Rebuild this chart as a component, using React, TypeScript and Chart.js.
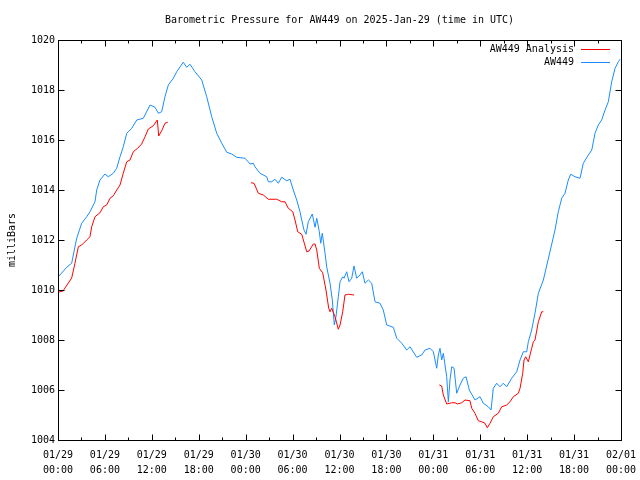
import React, { useEffect, useRef } from "react";
import { Chart, registerables } from "chart.js";

Chart.register(...registerables);

// Hours since 2025-01-29 00:00 UTC
const awHours = [
  0.13, 1.11, 1.75, 2.17, 2.39, 3.03, 3.67, 4.09, 4.73, 4.95, 5.37, 6.01, 6.43, 7.07, 7.51, 7.93, 8.35, 8.79, 9.43, 10.07,
  10.91, 11.77, 12.41, 12.83, 13.26, 13.68, 14.11, 14.75, 15.18, 16.02, 16.46, 16.88, 17.52, 18.38, 19.02, 19.66, 20.3, 20.94,
  21.58, 22.21, 22.85, 23.92, 24.56, 24.98, 25.19, 25.83, 26.69, 26.9, 27.33, 27.75, 28.17, 28.61, 29.25, 29.67, 30.09, 30.53,
  30.95, 31.17, 31.46, 31.72, 32.01, 32.52, 32.87, 33.09, 33.42, 33.6, 33.8, 34.15, 34.36, 34.79, 35.08, 35.34, 35.55, 35.85,
  36.07, 36.41, 36.58, 36.92, 37.22, 37.56, 37.86, 38.2, 38.62, 38.92, 39.26, 39.69, 40.12, 40.54, 41.18, 41.6, 42.04, 42.88,
  43.32, 43.96, 44.6, 45.02, 45.87, 46.51, 46.94, 47.58, 48.0, 48.43, 48.64, 48.85, 49.07, 49.28, 49.71, 49.92, 50.13, 50.35,
  50.65, 50.99, 51.41, 51.83, 52.18, 52.6, 53.33, 53.97, 54.39, 55.03, 55.38, 55.67, 56.11, 56.53, 56.95, 57.38, 58.02, 58.66,
  59.09, 59.51, 59.94, 60.15, 60.58, 61.0, 61.43, 62.07, 62.67, 63.56, 63.98, 64.42, 64.84, 65.26, 65.57, 66.12, 66.76, 67.18,
  67.82, 68.26, 68.68, 69.1, 69.53, 69.96, 70.38, 70.81, 71.24, 71.66, 71.88,
];
const awPressure = [
  1010.56, 1010.91, 1011.07, 1011.73, 1012.07, 1012.67, 1012.93, 1013.13, 1013.53, 1014.0, 1014.4, 1014.64, 1014.53, 1014.67,
  1014.87, 1015.33, 1015.73, 1016.27, 1016.47, 1016.8, 1016.87, 1017.4, 1017.31, 1017.07, 1017.13, 1017.73, 1018.2, 1018.47,
  1018.73, 1019.11, 1018.91, 1019.03, 1018.73, 1018.4, 1017.73, 1016.93, 1016.27, 1015.87, 1015.51, 1015.44, 1015.31, 1015.27,
  1015.04, 1015.07, 1014.93, 1014.67, 1014.53, 1014.33, 1014.33, 1014.43, 1014.27, 1014.51, 1014.37, 1014.43, 1014.0, 1013.6,
  1013.13, 1012.8, 1012.4, 1012.23, 1012.73, 1013.04, 1012.51, 1012.87, 1012.33, 1011.87, 1012.27, 1011.47, 1010.93, 1010.27,
  1009.6, 1008.6, 1008.93, 1009.73, 1010.33, 1010.53, 1010.47, 1010.73, 1010.33, 1010.47, 1010.96, 1010.47, 1010.6, 1010.73,
  1010.27, 1010.4, 1010.27, 1009.53, 1009.47, 1009.2, 1008.6, 1008.51, 1008.07, 1007.87, 1007.6, 1007.73, 1007.31, 1007.4,
  1007.6, 1007.67, 1007.53, 1006.87, 1007.4, 1007.67, 1007.2, 1007.47, 1006.53, 1005.53, 1006.4, 1006.93, 1006.87, 1005.87,
  1006.2, 1006.47, 1006.53, 1006.0, 1005.6, 1005.73, 1005.47, 1005.33, 1005.2, 1006.07, 1006.27, 1006.13, 1006.27, 1006.13,
  1006.47, 1006.73, 1007.2, 1007.53, 1007.53, 1007.93, 1008.4, 1009.07, 1009.87, 1010.4, 1011.2, 1012.4, 1013.13, 1013.67,
  1013.87, 1014.4, 1014.63, 1014.53, 1014.47, 1015.07, 1015.4, 1015.6, 1016.27, 1016.6, 1016.8, 1017.2, 1017.53, 1018.33,
  1018.87, 1019.13, 1019.23,
];

const anHours = [
  0.13, 0.64, 1.15, 1.75, 2.17, 2.6, 3.03, 3.67, 4.09, 4.31, 4.73, 5.37, 5.79, 6.23, 6.65, 7.07, 7.51, 7.93, 8.35, 8.79, 9.21,
  9.63, 10.19, 10.7, 11.13, 11.55, 12.19, 12.7, 12.88, 13.26, 13.68, 14.03,
  19.0,
  24.68, 25.07, 25.62, 26.26, 26.9, 27.97, 28.61, 29.03, 29.45, 30.02, 30.31, 30.66, 31.17, 31.81, 32.1, 32.65, 32.87, 33.09,
  33.42, 33.85, 34.27, 34.62, 34.79, 35.0, 35.43, 35.85, 36.07, 36.41, 36.7, 37.13, 37.86,
  43.0,
  48.76, 49.07, 49.28, 49.71, 50.35, 50.77, 51.07, 51.63, 52.05, 52.69, 52.91, 53.33, 53.75, 54.19, 54.61, 54.9, 55.25, 55.67,
  56.31, 56.74, 57.38, 57.81, 58.23, 58.87, 59.09, 59.43, 59.6, 59.81, 60.15, 60.58, 60.79, 61.0, 61.43, 61.86, 62.07,
];
const anPressure: (number | null)[] = [
  1009.92, 1009.96, 1010.2, 1010.48, 1011.07, 1011.73, 1011.8, 1012.0, 1012.13, 1012.53, 1012.93, 1013.09, 1013.33, 1013.4,
  1013.67, 1013.77, 1014.0, 1014.2, 1014.67, 1015.13, 1015.2, 1015.53, 1015.67, 1015.84, 1016.13, 1016.44, 1016.57, 1016.8,
  1016.16, 1016.37, 1016.67, 1016.71,
  null,
  1014.29, 1014.27, 1013.87, 1013.8, 1013.63, 1013.63, 1013.53, 1013.53, 1013.27, 1013.13, 1012.8, 1012.33, 1012.23, 1011.53,
  1011.56, 1011.84, 1011.84, 1011.6, 1010.87, 1010.69, 1010.0, 1009.27, 1009.13, 1009.27, 1008.93, 1008.43, 1008.6, 1009.13,
  1009.8, 1009.83, 1009.8,
  null,
  1006.2, 1006.16, 1005.8, 1005.44, 1005.49, 1005.49, 1005.44, 1005.49, 1005.6, 1005.57, 1005.27, 1005.07, 1004.77, 1004.73,
  1004.67, 1004.49, 1004.67, 1004.93, 1005.07, 1005.33, 1005.4, 1005.53, 1005.73, 1005.87, 1006.07, 1006.67, 1007.2, 1007.33,
  1007.13, 1007.67, 1007.93, 1008.0, 1008.73, 1009.13, 1009.13,
];

const xTickDates = ["01/29", "01/29", "01/29", "01/29", "01/30", "01/30", "01/30", "01/30", "01/31", "01/31", "01/31", "01/31", "02/01"];
const xTickTimes = ["00:00", "06:00", "12:00", "18:00", "00:00", "06:00", "12:00", "18:00", "00:00", "06:00", "12:00", "18:00", "00:00"];
const yMin = 1004;
const yMax = 1020;
const seriesNames = ["AW449 Analysis", "AW449"];
const seriesColors = ["#ff0000", "#1a8cff"];

const FONT = "'DejaVu Sans Mono', 'Liberation Mono', monospace";

const framePlugin = {
  id: "gnuframe",
  afterDraw(chart: any) {
    const { ctx, chartArea } = chart;
    const xs = chart.scales.x;
    const ys = chart.scales.y;
    const L = Math.round(chartArea.left) + 0.5;
    const R = Math.round(chartArea.right) + 0.5;
    const T = Math.round(chartArea.top) + 0.5;
    const B = Math.round(chartArea.bottom) + 0.5;
    ctx.save();
    ctx.strokeStyle = "#000";
    ctx.lineWidth = 1;
    ctx.beginPath();
    // x ticks every 3 hours (major every 6)
    for (let h = 0; h <= 72; h += 3) {
      const px = Math.round(xs.getPixelForValue(h)) + 0.5;
      const len = h % 6 === 0 ? 6 : 3;
      ctx.moveTo(px, B);
      ctx.lineTo(px, B - len);
      ctx.moveTo(px, T);
      ctx.lineTo(px, T + len);
    }
    for (let v = yMin; v <= yMax; v += 2) {
      const py = Math.round(ys.getPixelForValue(v)) + 0.5;
      ctx.moveTo(L, py);
      ctx.lineTo(L + 6, py);
      ctx.moveTo(R, py);
      ctx.lineTo(R - 6, py);
    }
    ctx.stroke();
    ctx.strokeRect(L, T, R - L, B - T);

    // legend inside top-right
    ctx.font = "10px " + FONT;
    ctx.textAlign = "right";
    ctx.textBaseline = "middle";
    const rows = [49, 62];
    for (let i = 0; i < seriesNames.length; i++) {
      ctx.fillStyle = "#000";
      ctx.fillText(seriesNames[i], 574, rows[i]);
      ctx.strokeStyle = seriesColors[i];
      ctx.beginPath();
      ctx.moveTo(581, rows[i] + 0.5);
      ctx.lineTo(610, rows[i] + 0.5);
      ctx.stroke();
    }
    ctx.restore();
  },
};

export default function App() {
  const ref = useRef<HTMLCanvasElement>(null);
  useEffect(() => {
    if (!ref.current) return;
    const chart = new Chart(ref.current, {
      type: "line",
      data: {
        datasets: [
          {
            label: seriesNames[0],
            data: anHours.map((h, i) => ({ x: h, y: anPressure[i] })),
            borderColor: seriesColors[0],
            borderWidth: 1,
            pointRadius: 0,
            tension: 0,
            spanGaps: false,
          },
          {
            label: seriesNames[1],
            data: awHours.map((h, i) => ({ x: h, y: awPressure[i] })),
            borderColor: seriesColors[1],
            borderWidth: 1,
            pointRadius: 0,
            tension: 0,
          },
        ],
      },
      options: {
        animation: false,
        responsive: false,
        layout: { padding: { left: 0, right: 19, top: 0, bottom: 0 } },
        plugins: {
          legend: { display: false },
          tooltip: { enabled: false },
          title: {
            display: true,
            fullSize: false,
            text: "Barometric Pressure for AW449 on 2025-Jan-29 (time in UTC)",
            color: "#000",
            font: { family: FONT, size: 10, weight: "normal", lineHeight: 1.2 },
            padding: { top: 14, bottom: 14 },
          },
        },
        scales: {
          x: {
            type: "linear",
            min: 0,
            max: 72,
            grid: { display: false, drawTicks: false },
            border: { display: false },
            afterFit: (s: any) => {
              s.height = 40;
              s.paddingLeft = 0;
              s.paddingRight = 0;
            },
            afterBuildTicks: (s: any) => {
              s.ticks = xTickDates.map((_, i) => ({ value: i * 6 }));
            },
            ticks: {
              color: "#000",
              padding: 8,
              maxRotation: 0,
              autoSkip: false,
              font: { family: FONT, size: 10, lineHeight: 1.5 },
              callback: (v: any) => {
                const i = Math.round(Number(v) / 6);
                return [xTickDates[i], xTickTimes[i]];
              },
            },
          },
          y: {
            min: yMin,
            max: yMax,
            grid: { display: false, drawTicks: false },
            border: { display: false },
            afterFit: (s: any) => {
              s.width = 58;
              s.paddingTop = 0;
              s.paddingBottom = 0;
            },
            ticks: {
              stepSize: 2,
              color: "#000",
              padding: 3,
              font: { family: FONT, size: 10 },
              callback: (v: any) => String(v),
            },
            title: {
              display: true,
              text: "milliBars",
              color: "#000",
              font: { family: FONT, size: 10, lineHeight: 1.2 },
              padding: { top: 6, bottom: 0 },
            },
          },
        },
      },
      plugins: [framePlugin],
    });
    return () => chart.destroy();
  }, []);
  return (
    <div style={{ position: "absolute", left: 0, top: 0, width: 640, height: 480, background: "#fff" }}>
      <canvas ref={ref} width={640} height={480} style={{ width: 640, height: 480 }} />
    </div>
  );
}
